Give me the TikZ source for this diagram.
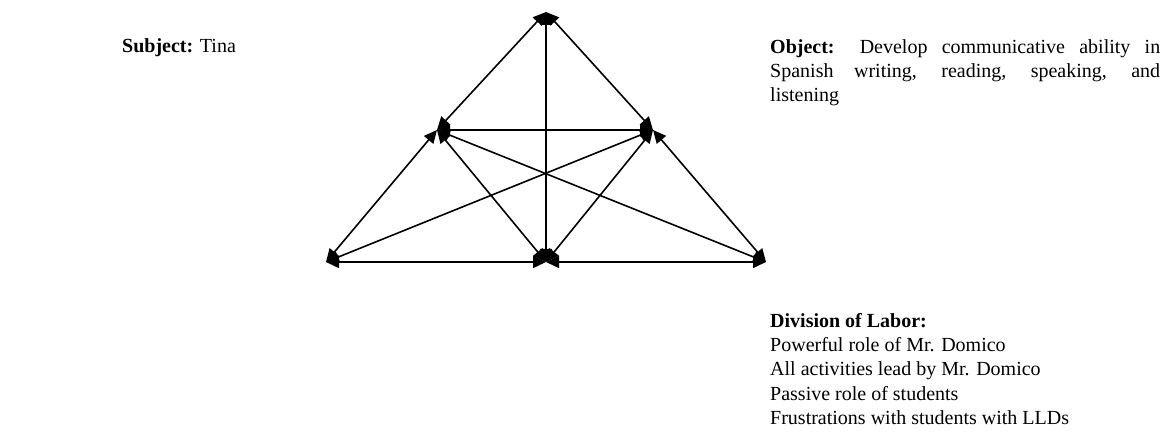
\documentclass[tikz,border=0pt]{standalone}
\usepackage{fontspec}
\setmainfont{Liberation Serif}
\usetikzlibrary{arrows.meta}
\tikzset{
  link/.style={line width=1.6pt,{Triangle[length=13pt,width=12pt]}-{Triangle[length=13pt,width=12pt]}},
  lbl/.style={inner sep=0pt,font=\fontsize{20}{24.3}\selectfont}
}
\begin{document}
\begin{tikzpicture}[x=1pt,y=-1pt]
\useasboundingbox (0,0) rectangle (1173,438);
\coordinate (T) at (546,12);
\coordinate (L) at (437,130);
\coordinate (R) at (653,130);
\coordinate (BL) at (326,262);
\coordinate (BM) at (546,262);
\coordinate (BR) at (766,262);
\draw[link] (L) -- (T);
\draw[link] (R) -- (T);
\draw[link] (BM) -- (T);
\draw[link] (L) -- (R);
\draw[link] (BL) -- (L);
\draw[link] (BM) -- (L);
\draw[link] (BR) -- (L);
\draw[link] (BR) -- (R);
\draw[link] (BM) -- (R);
\draw[link] (BL) -- (R);
\draw[link] (BL) -- (BM);
\draw[link] (BR) -- (BM);
\node[lbl,anchor=base west] (subj) at (122,53) {\textbf{Subject:} Tina};
\node[lbl,anchor=north west,align=left] (obj) at (770,39) {\makebox[390pt][s]{\textbf{Object:} Develop communicative ability in}\\
\makebox[390pt][s]{Spanish writing, reading, speaking, and}\\
listening};
\node[lbl,anchor=north west,align=left] (dol) at (770,313) {\textbf{Division of Labor:}\\
Powerful role of Mr. Domico\\
All activities lead by Mr. Domico\\
Passive role of students\\
Frustrations with students with LLDs};
\end{tikzpicture}
\end{document}
